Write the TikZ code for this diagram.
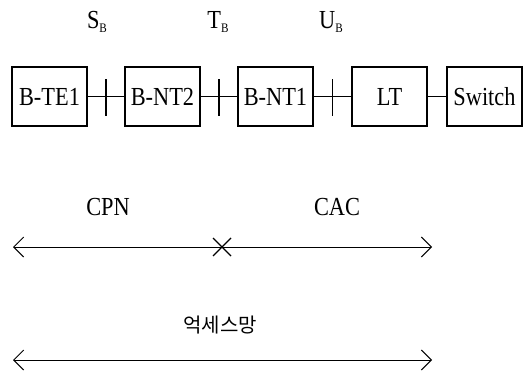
\documentclass[tikz,border=0pt]{standalone}
\usepackage{fontspec}
\setmainfont{Liberation Serif}[FakeStretch=0.86]
\newfontfamily\krfont{Noto Sans CJK KR}
\usetikzlibrary{arrows.meta}
\newcommand{\refpt}[2]{#1\raisebox{-0.3ex}{\fontsize{13}{13}\selectfont #2}}

\begin{document}
\begin{tikzpicture}[x=1pt, y=1pt,
    font=\fontsize{26}{28}\selectfont,
    unit/.style={draw, line width=1.2pt, minimum width=75pt, minimum height=59pt,
                 inner sep=0pt},
    link/.style={line width=1.1pt},
    barb/.tip={Straight Barb[length=10pt,width=20pt]},
    span/.style={line width=1pt, -barb}]

  \useasboundingbox (0,0) rectangle (529,-374);

  \node[unit] (te1) at (49.5,-96.5) {B-TE1};
  \node[unit] (nt2) at (162.5,-96.5) {B-NT2};
  \node[unit] (nt1) at (275.5,-96.5) {B-NT1};
  \node[unit] (lt) at (389.5,-96.5) {LT};
  \node[unit] (sw) at (484.5,-96.5) {Switch};

  \foreach \i/\j/\n in {te1/nt2/sb, nt2/nt1/tb, nt1/lt/ub}
    \draw[link] (\i) -- (\j) coordinate[midway] (\n);
  \draw[link] (lt) -- (sw);
  \foreach \n in {sb, tb, ub}
    \draw[link] ([yshift=17pt]\n) -- ([yshift=-20pt]\n);

  \node (lsb) at (97,-22) {\refpt{S}{B}};
  \node (ltb) at (218,-22) {\refpt{T}{B}};
  \node (lub) at (331,-22) {\refpt{U}{B}};

  % CPN / CAC
  \node (cpn) at (108,-207) {CPN};
  \node (cac) at (337,-207) {CAC};
  \coordinate (a1) at (13,-247);
  \coordinate (x1) at (222,-247);
  \coordinate (a2) at (432,-247);
  \draw[span] (x1) -- (a1);
  \draw[span] (x1) -- (a2);
  \draw[link] ([shift={(-9pt,9pt)}]x1) -- ([shift={(9pt,-9pt)}]x1);
  \draw[link] ([shift={(-9pt,-9pt)}]x1) -- ([shift={(9pt,9pt)}]x1);

  % access network
  \node[font={\krfont\fontsize{20}{21}\selectfont}] (acc) at (220,-325) {억세스망};
  \coordinate (b1) at (13,-360);
  \coordinate (b2) at (432,-360);
  \draw[span, barb-barb] (b1) -- (b2);
\end{tikzpicture}
\end{document}
